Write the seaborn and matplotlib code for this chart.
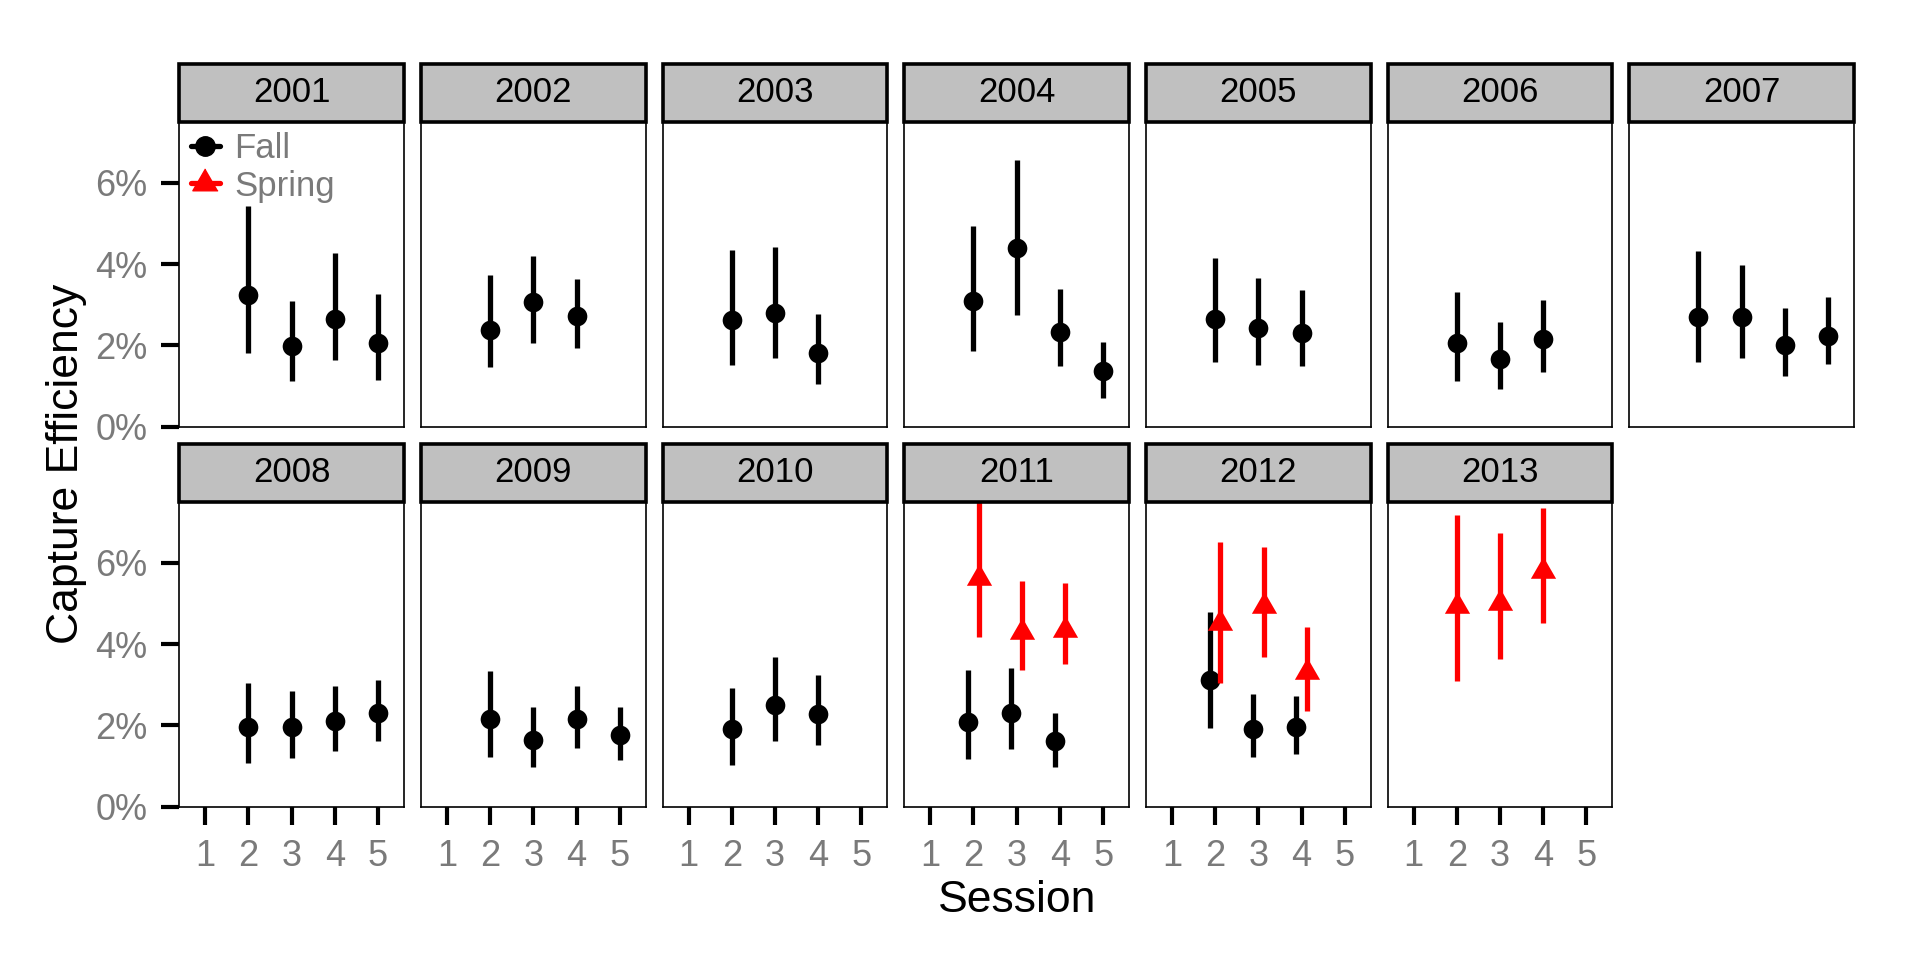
import numpy as np
import pandas as pd
import seaborn as sns
import matplotlib.pyplot as plt
from matplotlib.lines import Line2D
from matplotlib.patches import Rectangle
from matplotlib.ticker import PercentFormatter

# Capture efficiency estimates (%), with lower / upper interval
year = [2001, 2001, 2001, 2001,
        2002, 2002, 2002,
        2003, 2003, 2003,
        2004, 2004, 2004, 2004,
        2005, 2005, 2005,
        2006, 2006, 2006,
        2007, 2007, 2007, 2007,
        2008, 2008, 2008, 2008,
        2009, 2009, 2009, 2009,
        2010, 2010, 2010,
        2011, 2011, 2011,
        2012, 2012, 2012,
        2011, 2011, 2011,
        2012, 2012, 2012,
        2013, 2013, 2013]
season = ['Fall'] * 41 + ['Spring'] * 9
session = [2, 3, 4, 5,
           2, 3, 4,
           2, 3, 4,
           2, 3, 4, 5,
           2, 3, 4,
           2, 3, 4,
           2, 3, 4, 5,
           2, 3, 4, 5,
           2, 3, 4, 5,
           2, 3, 4,
           2, 3, 4,
           2, 3, 4,
           2, 3, 4,
           2, 3, 4,
           2, 3, 4]
est = [3.25, 1.98, 2.66, 2.05,
       2.39, 3.06, 2.72,
       2.62, 2.79, 1.80,
       3.10, 4.39, 2.32, 1.36,
       2.66, 2.42, 2.31,
       2.07, 1.66, 2.15,
       2.70, 2.69, 2.00, 2.23,
       1.95, 1.97, 2.11, 2.31,
       2.16, 1.64, 2.15, 1.76,
       1.90, 2.50, 2.27,
       2.09, 2.30, 1.61,
       3.11, 1.92, 1.96,
       5.63, 4.30, 4.34,
       4.51, 4.93, 3.32,
       4.93, 5.02, 5.79]
lower = [1.82, 1.13, 1.64, 1.15,
         1.48, 2.07, 1.93,
         1.52, 1.68, 1.04,
         1.86, 2.75, 1.50, 0.71,
         1.58, 1.52, 1.50,
         1.12, 0.92, 1.34,
         1.60, 1.70, 1.25, 1.53,
         1.07, 1.20, 1.38, 1.62,
         1.23, 0.98, 1.45, 1.15,
         1.02, 1.62, 1.51,
         1.17, 1.43, 0.98,
         1.94, 1.23, 1.29,
         4.18, 3.36, 3.52,
         3.05, 3.69, 2.36,
         3.10, 3.63, 4.51]
upper = [5.43, 3.08, 4.26, 3.26,
         3.73, 4.20, 3.62,
         4.34, 4.41, 2.77,
         4.93, 6.57, 3.39, 2.09,
         4.16, 3.66, 3.36,
         3.30, 2.58, 3.12,
         4.32, 3.98, 2.92, 3.19,
         3.05, 2.84, 2.98, 3.11,
         3.34, 2.44, 2.97, 2.44,
         2.93, 3.68, 3.23,
         3.36, 3.41, 2.30,
         4.78, 2.77, 2.73,
         7.90, 5.56, 5.49,
         6.50, 6.38, 4.41,
         7.17, 6.74, 7.35]
years = list(range(2001, 2014))

df = pd.DataFrame({'year': year, 'season': season, 'session': session,
                   'est': est, 'lower': lower, 'upper': upper})

# dodge fall / spring where both were sampled in the same session
n_seasons = df.groupby(['year', 'session'])['season'].transform('nunique')
shift = np.where(df['season'] == 'Fall', -0.12, 0.12)
df['x'] = df['session'] + np.where(n_seasons > 1, shift, 0.0)

colors = {'Fall': 'black', 'Spring': 'red'}
tri = [(0, 1), (-0.866, -0.5), (0.866, -0.5)]
markers = {'Fall': 'o', 'Spring': tri}
sizes = {'Fall': 200, 'Spring': 440}

sns.set_style('white')
plt.rcParams['font.family'] = ['Liberation Sans', 'DejaVu Sans']


def draw(data, **kws):
    ax = plt.gca()
    for i, s in enumerate(['Fall', 'Spring']):
        sub = data[data['season'] == s]
        if sub.empty:
            continue
        ax.vlines(sub['x'], sub['lower'], sub['upper'], color=colors[s],
                  lw=3.8, zorder=2 + 2 * i)
        sns.scatterplot(data=sub, x='x', y='est', ax=ax, color=colors[s],
                        marker=markers[s], s=sizes[s], linewidth=0,
                        zorder=3 + 2 * i, legend=False)


g = sns.FacetGrid(df, col='year', col_wrap=7, col_order=years, height=3,
                  aspect=0.75, sharex=True, sharey=True, despine=False)
g.map_dataframe(draw)
g.set_titles('')

fig = g.figure
fig.set_size_inches(19.2, 9.6)

for k, ax in enumerate(g.axes.flat):
    ax.set_xlim(0.4, 5.6)
    ax.set_ylim(0, 7.5)
    ax.set_xticks([1, 2, 3, 4, 5])
    ax.set_yticks([0, 2, 4, 6])
    ax.yaxis.set_major_formatter(PercentFormatter(xmax=100, decimals=0))
    ax.set_xlabel('')
    ax.set_ylabel('')
    for sp in ax.spines.values():
        sp.set_color('black')
        sp.set_linewidth(1.2)
    ax.tick_params(axis='both', direction='out', length=13, width=3,
                   color='black', labelcolor='#7A7A7A', labelsize=26, pad=10)
    top_row = k < 7
    first_col = k % 7 == 0
    ax.tick_params(axis='x', bottom=not top_row, labelbottom=not top_row)
    ax.tick_params(axis='y', left=first_col, labelleft=first_col)
    # strip
    ax.add_patch(Rectangle((0, 1), 1, 58 / 305, transform=ax.transAxes,
                           clip_on=False, facecolor='#C0C0C0',
                           edgecolor='black', lw=2.6, zorder=5))
    ax.text(0.5, 1 + 29 / 305, str(years[k]), transform=ax.transAxes,
            ha='center', va='center', fontsize=25, color='black', zorder=6)

handles = [Line2D([0], [0], color='black', lw=3.8, marker='o', markersize=14),
           Line2D([0], [0], color='red', lw=3.8, marker=tri, markersize=21)]
g.axes.flat[0].legend(handles, ['Fall', 'Spring'], loc='upper left',
                      bbox_to_anchor=(0.05, 0.965), frameon=False,
                      fontsize=25, labelcolor='#7A7A7A', handlelength=0.85,
                      handletextpad=0.4, labelspacing=0.12, borderpad=0,
                      borderaxespad=0)

fig.subplots_adjust(left=179.3 / 1920, right=1854 / 1920,
                    top=1 - 121.7 / 960, bottom=1 - 806.7 / 960,
                    wspace=17 / 224.7, hspace=75 / 305)

fig.text(1017 / 1920, 1 - 900 / 960, 'Session', ha='center', va='center',
         fontsize=32, color='black')
fig.text(67 / 1920, 1 - 464 / 960, 'Capture Efficiency', ha='center',
         va='center', rotation=90, fontsize=32, color='black')

fig.savefig('out.png', dpi=100)
